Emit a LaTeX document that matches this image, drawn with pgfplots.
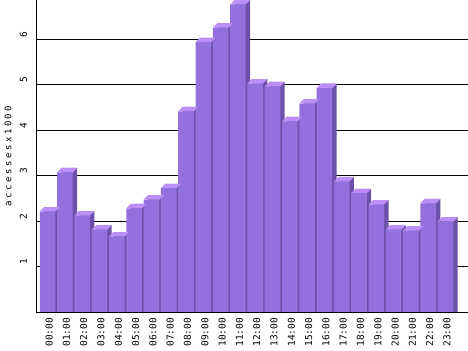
\documentclass[border=0pt]{standalone}
\usepackage{fontspec}
\usepackage{pgfplots}
\pgfplotsset{compat=1.18}
\setmainfont{DejaVu Sans Mono}
\newfontfamily\labfont[LetterSpace=28]{DejaVu Sans Mono}
\definecolor{barfront}{RGB}{147,112,219}
\definecolor{bartop}{RGB}{187,143,247}
\definecolor{barside}{RGB}{107,82,168}
\pgfdeclareplotmark{topface}{%
  \pgfpathmoveto{\pgfpoint{-7.8bp}{0pt}}%
  \pgfpathlineto{\pgfpoint{7.8bp}{0pt}}%
  \pgfpathlineto{\pgfpoint{12.2bp}{4.4bp}}%
  \pgfpathlineto{\pgfpoint{-3.4bp}{4.4bp}}%
  \pgfpathclose\pgfusepathqfill}
\begin{document}
\begin{tikzpicture}
\path[use as bounding box] (-36bp,-39bp) rectangle (432bp,312bp);
\begin{axis}[
  scale only axis, width=432bp, height=312bp,
  at={(0,0)}, anchor=south west,
  xmin=-0.6705, xmax=24.30, ymin=0, ymax=6.857,
  /pgf/number format/assume math mode=true,
  axis x line*=bottom, axis y line*=left,
  x axis line style={draw=none},
  y axis line style={black, line width=0.9bp},
  tick style={draw=none},
  xtick={0,...,23},
  xticklabels={00:00,01:00,02:00,03:00,04:00,05:00,06:00,07:00,08:00,09:00,10:00,11:00,12:00,13:00,14:00,15:00,16:00,17:00,18:00,19:00,20:00,21:00,22:00,23:00},
  xticklabel style={yshift=-2.5bp, xshift=1.5bp, rotate=90, anchor=east, font=\fontsize{9.5bp}{11bp}\selectfont},
  ytick={1,...,6},
  yticklabels={1,2,3,4,5,6},
  extra y ticks={0}, extra y tick labels={},
  yticklabel style={xshift=-5.5bp, yshift=4.5bp, rotate=90, anchor=south, font=\fontsize{9.5bp}{11bp}\selectfont},
  ymajorgrids, extra y tick style={grid=major},
  major grid style={black, line width=0.9bp},
  ylabel={accessesx1000},
  ylabel style={at={(axis description cs:-0.0648,0.5)}, anchor=center, font=\labfont\fontsize{9bp}{11bp}\selectfont},
]
% side faces (shifted copies)
\addplot[ybar, bar width=15.6bp, bar shift=4.4bp, fill=barside, draw=none] coordinates {
(0,2.307)(1,3.167)(2,2.217)(3,1.907)(4,1.757)(5,2.377)(6,2.567)(7,2.817)
(8,4.507)(9,6.027)(10,6.347)(11,6.857)(12,5.117)(13,5.057)(14,4.287)(15,4.677)
(16,5.017)(17,2.967)(18,2.707)(19,2.457)(20,1.907)(21,1.887)(22,2.487)(23,2.087)};
% top faces
\addplot[only marks, mark=topface, color=bartop, mark options={fill=bartop, draw=none}] coordinates {
(0,2.21)(1,3.07)(2,2.12)(3,1.81)(4,1.66)(5,2.28)(6,2.47)(7,2.72)
(8,4.41)(9,5.93)(10,6.25)(11,6.76)(12,5.02)(13,4.96)(14,4.19)(15,4.58)
(16,4.92)(17,2.87)(18,2.61)(19,2.36)(20,1.81)(21,1.79)(22,2.39)(23,1.99)};
% front faces
\addplot[ybar, bar width=15.6bp, bar shift=0bp, fill=barfront, draw=none] coordinates {
(0,2.21)(1,3.07)(2,2.12)(3,1.81)(4,1.66)(5,2.28)(6,2.47)(7,2.72)
(8,4.41)(9,5.93)(10,6.25)(11,6.76)(12,5.02)(13,4.96)(14,4.19)(15,4.58)
(16,4.92)(17,2.87)(18,2.61)(19,2.36)(20,1.81)(21,1.79)(22,2.39)(23,1.99)};
\end{axis}
\end{tikzpicture}
\end{document}
